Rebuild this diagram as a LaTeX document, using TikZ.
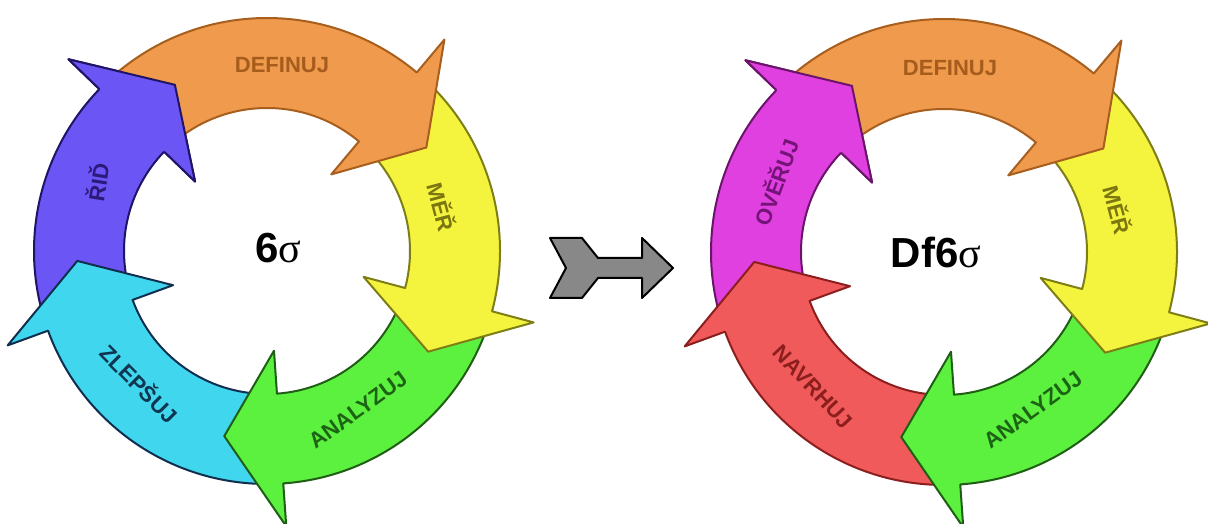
\documentclass[tikz,border=0pt]{standalone}
\usepackage{fontspec}
\setmainfont{Liberation Sans}
\newfontfamily\greekfont{Liberation Serif}

\definecolor{orangeF}{HTML}{EF9A4C}
\definecolor{orangeL}{HTML}{A85E1C}
\definecolor{orangeT}{HTML}{A55C1C}
\definecolor{yellowF}{HTML}{F4F43E}
\definecolor{yellowL}{HTML}{7E7E16}
\definecolor{yellowT}{HTML}{7C7610}
\definecolor{greenF}{HTML}{5DF13F}
\definecolor{greenL}{HTML}{1F5E14}
\definecolor{greenT}{HTML}{1C6414}
\definecolor{cyanF}{HTML}{40D6EE}
\definecolor{cyanL}{HTML}{102F4E}
\definecolor{cyanT}{HTML}{0F3550}
\definecolor{purpleF}{HTML}{6B55F4}
\definecolor{purpleL}{HTML}{1F1466}
\definecolor{purpleT}{HTML}{2C1A7A}
\definecolor{magentaF}{HTML}{E040E0}
\definecolor{magentaL}{HTML}{6A146A}
\definecolor{magentaT}{HTML}{741378}
\definecolor{redF}{HTML}{F05A5A}
\definecolor{redL}{HTML}{8C1E1E}
\definecolor{redT}{HTML}{8C1E1E}
\definecolor{shaftF}{HTML}{888888}

% Curved segment of the cycle: tail angle, head angle, fill, outline
\newcommand{\ringarrow}[4]{%
  \pgfmathsetmacro{\tipa}{#2-17}%
  \draw[ringline, fill=#3, draw=#4]
    (#1:233) arc[start angle=#1, end angle=#2, radius=233]
    -- (#2:276) -- (\tipa:190) -- (#2:100) -- (#2:143)
    arc[start angle=#2, end angle=#1, radius=143] -- cycle;}
% Head only, laid again over the tail of the segment that follows it
\newcommand{\ringhead}[3]{%
  \pgfmathsetmacro{\tipa}{#1-17}%
  \fill[#2] (#1:276) -- (\tipa:190) -- (#1:100) -- cycle;
  \draw[ringline, draw=#3] (#1:233) -- (#1:276) -- (\tipa:190) -- (#1:100) -- (#1:143);}

\begin{document}
\begin{tikzpicture}[x=1pt, y=1pt,
  ringline/.style={line width=2pt, line join=round},
  lbl/.style={font=\fontsize{22}{24}\selectfont\bfseries, inner sep=0pt},
  hub/.style={font=\fontsize{42}{46}\selectfont\bfseries, inner sep=0pt}]
\useasboundingbox (0,0) rectangle (1208,524);
\fill[white] (0,0) rectangle (1208,524);

% ---- Six Sigma cycle (drawn against the flow, so each head lies on the next tail) ----
\begin{scope}[shift={(267,273)}]
  \ringarrow{196}{136}{purpleF}{purpleL}
  \ringarrow{-90}{-160}{cyanF}{cyanL}
  \ringarrow{-19}{-86}{greenF}{greenL}
  \ringarrow{46}{-15}{yellowF}{yellowL}
  \ringarrow{132}{50}{orangeF}{orangeL}
  \ringhead{136}{purpleF}{purpleL}
\end{scope}
\node[lbl, text=orangeT] (l-def) at (282,459) {DEFINUJ};
\node[lbl, text=yellowT, rotate=-75] (l-mer) at (442,317) {MĚŘ};
\node[lbl, text=greenT, rotate=36] (l-ana) at (358,114) {ANALYZUJ};
\node[lbl, text=cyanT, rotate=-45] (l-zle) at (140,141) {ZLEPŠUJ};
\node[lbl, text=purpleT, rotate=81] (l-rid) at (97,342) {ŘIĎ};
\node[hub] (l-hub) at (278,276) {6{\greekfont\mdseries σ}};

% ---- Transition arrow ----
\draw[line width=2pt, fill=shaftF, line join=round]
  (550,286) -- (582,286) -- (598,266) -- (642,266) -- (642,286)
  -- (673,256) -- (642,226) -- (642,246) -- (598,246) -- (582,226)
  -- (550,226) -- (566,256) -- cycle;

% ---- Design for Six Sigma cycle ----
\begin{scope}[shift={(944,272)}]
  \ringarrow{196}{136}{magentaF}{magentaL}
  \ringarrow{-90}{-160}{redF}{redL}
  \ringarrow{-19}{-86}{greenF}{greenL}
  \ringarrow{46}{-15}{yellowF}{yellowL}
  \ringarrow{132}{50}{orangeF}{orangeL}
  \ringhead{136}{magentaF}{magentaL}
\end{scope}
\node[lbl, text=orangeT] (r-def) at (950,456) {DEFINUJ};
\node[lbl, text=yellowT, rotate=-75] (r-mer) at (1118,314) {MĚŘ};
\node[lbl, text=greenT, rotate=36] (r-ana) at (1033,114) {ANALYZUJ};
\node[lbl, text=redT, rotate=-47] (r-nav) at (813,137) {NAVRHUJ};
\node[lbl, text=magentaT, rotate=70] (r-ove) at (775,342) {OVĚŘUJ};
\node[hub] (r-hub) at (936,272) {Df6{\greekfont\mdseries σ}};
\end{tikzpicture}
\end{document}
